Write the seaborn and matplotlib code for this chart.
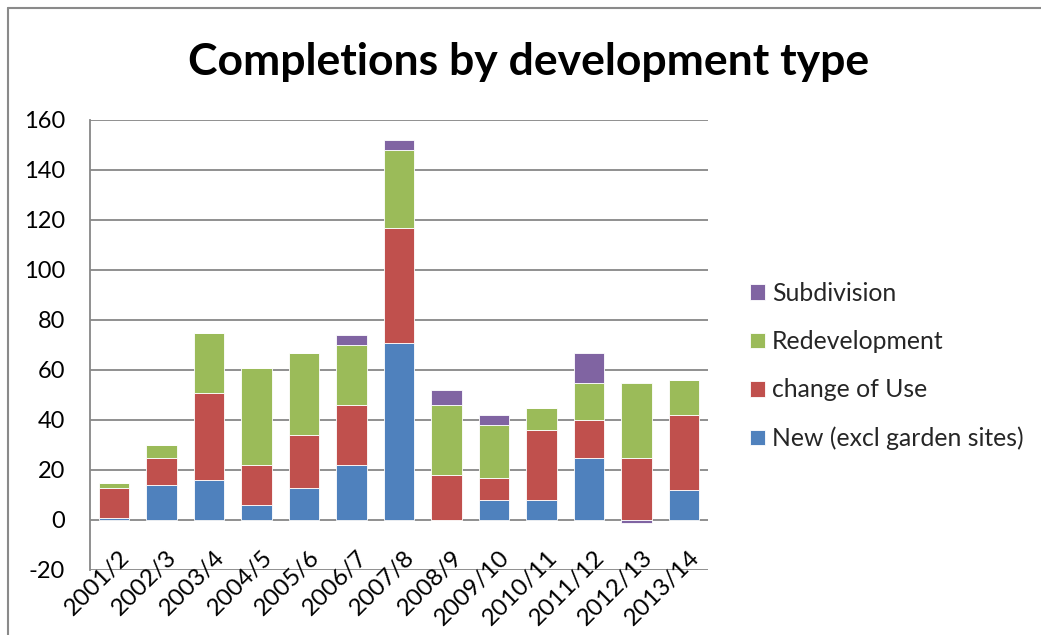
import matplotlib
matplotlib.use("Agg")
import matplotlib.pyplot as plt
import matplotlib.transforms as mtransforms
from matplotlib.lines import Line2D
import seaborn as sns
import numpy as np

years = ["2001/2", "2002/3", "2003/4", "2004/5", "2005/6", "2006/7", "2007/8",
         "2008/9", "2009/10", "2010/11", "2011/12", "2012/13", "2013/14"]
new_excl_garden = [1, 14, 16, 6, 13, 22, 71, 0, 8, 8, 25, 0, 12]
change_of_use = [12, 11, 35, 16, 21, 24, 46, 18, 9, 28, 15, 25, 30]
redevelopment = [2, 5, 24, 39, 33, 24, 31, 28, 21, 9, 15, 30, 14]
subdivision = [0, 0, 0, 0, 0, 4, 4, 6, 4, 0, 12, -1, 0]

series_names = ["New (excl garden sites)", "change of Use", "Redevelopment", "Subdivision"]
series_values = [new_excl_garden, change_of_use, redevelopment, subdivision]
colors = ["#4F81BD", "#C0504D", "#9BBB59", "#8064A2"]
y_ticks = [-20, 0, 20, 40, 60, 80, 100, 120, 140, 160]

sns.set_theme(style="white")
plt.rcParams["font.family"] = ["Lato", "DejaVu Sans"]
plt.rcParams["axes.unicode_minus"] = False

W, H = 1041, 635
fig = plt.figure(figsize=(W / 100, H / 100), dpi=100)
ax = fig.add_axes([90 / W, 1 - 570 / H, (708 - 90) / W, 450 / H])

grid_col = "#878787"
for t in y_ticks:
    ax.axhline(t, color=grid_col, lw=1.3, zorder=0)

n = len(years)
pos_base = np.zeros(n)
neg_base = np.zeros(n)
for name, vals, col in zip(series_names, series_values, colors):
    v = np.array(vals, dtype=float)
    bottom = np.where(v >= 0, pos_base, neg_base)
    sns.barplot(x=years, y=v, bottom=bottom, color=col, saturation=1, width=0.64,
                edgecolor="white", linewidth=0.6, ax=ax, label=name, errorbar=None,
                zorder=2)
    pos_base += np.where(v > 0, v, 0)
    neg_base += np.where(v < 0, v, 0)

ax.set_ylim(-20, 160)
ax.set_xlim(-0.5, n - 0.5)
ax.set_yticks(y_ticks)
ax.set_xlabel("")
ax.set_ylabel("")
for s in ["top", "right"]:
    ax.spines[s].set_visible(False)
ax.spines["left"].set_color(grid_col)
ax.spines["left"].set_linewidth(1.3)
ax.spines["bottom"].set_position(("data", 0))
ax.spines["bottom"].set_visible(False)
ax.tick_params(axis="y", length=0, pad=18, labelsize=17, labelcolor="black")
ax.tick_params(axis="x", length=0, pad=19, labelsize=17.5, labelcolor="black")
ax.set_xticks(range(n))
ax.set_xticklabels(years)
shift = mtransforms.ScaledTranslation(5 / 100, 0, fig.dpi_scale_trans)
for lab in ax.get_xticklabels():
    lab.set_rotation(45)
    lab.set_ha("right")
    lab.set_va("top")
    lab.set_rotation_mode("anchor")
    lab.set_transform(lab.get_transform() + shift)

handles, labels = ax.get_legend_handles_labels()
if ax.get_legend() is not None:
    ax.get_legend().remove()
fig.legend(handles[::-1], labels[::-1], loc="upper left",
           bbox_to_anchor=(750 / W, 1 - 282 / H), frameon=False, fontsize=17.8,
           handlelength=0.6, handleheight=0.6, handletextpad=0.3,
           labelspacing=1.02, borderaxespad=0, borderpad=0)

fig.text(529 / W, 1 - 62 / H, "Completions by development type", ha="center",
         va="center", fontsize=32, fontweight="bold", color="black")

fig.add_artist(Line2D([8 / W, 8 / W], [0, 1 - 8 / H], transform=fig.transFigure,
                      color="#8a8a8a", lw=1.5))
fig.add_artist(Line2D([8 / W, 1], [1 - 8 / H, 1 - 8 / H], transform=fig.transFigure,
                      color="#8a8a8a", lw=1.5))

fig.savefig("out.png", dpi=100)
